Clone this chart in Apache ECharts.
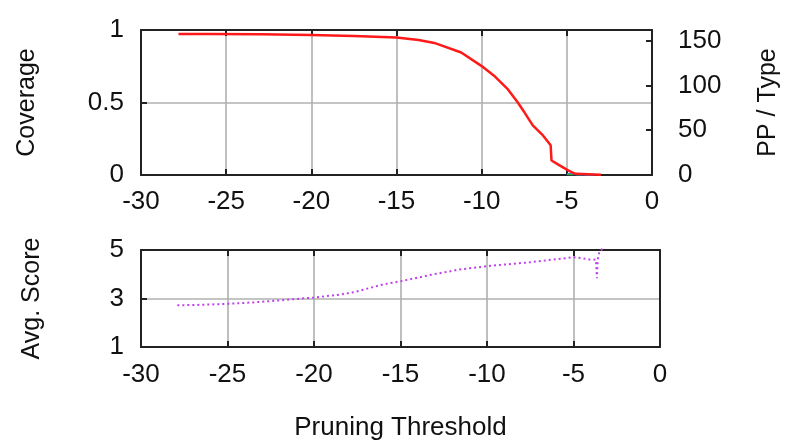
<!DOCTYPE html>
<html>
<head>
<meta charset="utf-8">
<script src="https://cdn.jsdelivr.net/npm/echarts@6/dist/echarts.min.js"></script>
<style>html,body{margin:0;padding:0;background:#fff}#c{width:789px;height:442px}</style>
</head>
<body>
<div id="c"></div>
<script>
// Pruning threshold vs coverage (top panel, left axis)
const coverageX = [-27.8, -26, -23, -20, -17.5, -15, -13.7, -12.7, -11.2, -10, -9.2, -8.5, -7.9, -7.5, -7.0, -6.4, -5.95, -5.9, -5.5, -4.9, -4.5, -3.0];
const coverageY = [0.972, 0.972, 0.970, 0.966, 0.958, 0.949, 0.931, 0.908, 0.845, 0.751, 0.677, 0.596, 0.503, 0.434, 0.342, 0.273, 0.205, 0.100, 0.072, 0.030, 0.008, 0.002];
// PP / Type (top panel, right axis) – tiny values near zero
const ppTypeX = [-5.0, -4.6, -4.2, -3.8, -3.4];
const ppTypeBlue = [1.2, 0.8, 0.6, 0.4, 0.3];
const ppTypeGreen = [0.6, 0.4, 0.3, 0.2, 0.2];
// Average score (bottom panel)
const scoreX = [-27.9, -26.5, -25, -23.5, -22, -20, -18.5, -17.7, -16, -15, -14, -13.3, -12, -11.7, -10, -9, -7.7, -6.5, -5, -4.5, -4.1, -3.7, -3.65, -3.6, -3.5, -3.3];
const scoreY = [2.72, 2.74, 2.78, 2.84, 2.92, 3.04, 3.16, 3.26, 3.58, 3.71, 3.86, 3.97, 4.14, 4.19, 4.33, 4.40, 4.48, 4.58, 4.70, 4.66, 4.61, 4.60, 3.84, 4.60, 4.95, 5.06];
// Tick settings
const xTicks = {min: -30, max: 0, interval: 5};
const covTicks = {min: 0, max: 1, interval: 0.5};
const ppTicks = {min: 0, max: 162, interval: 50};
const scoreTicks = {min: 1, max: 5, interval: 2};

const zip = (a, b) => a.map((v, i) => [v, b[i]]);
const TXT = '#111';
const FONT = 'Liberation Sans';
const lbl = {fontSize: 26, color: TXT, fontFamily: FONT};
const tick = {show: true, inside: true, length: 6, lineStyle: {color: '#222', width: 2}};
const aline = {show: true, onZero: false, lineStyle: {color: '#222', width: 2}};
const split = {show: true, lineStyle: {color: '#b0b0b0', width: 1.6}};
const nameStyle = {fontSize: 25, color: TXT, fontFamily: FONT};

const chart = echarts.init(document.getElementById('c'), null, {renderer: 'canvas'});
chart.setOption({
  animation: false,
  backgroundColor: '#fff',
  grid: [
    {left: 141, top: 30, width: 519, height: 145, containLabel: false},
    {left: 141, top: 250, width: 519, height: 106, containLabel: false}
  ],
  xAxis: [
    {gridIndex: 0, type: 'value', position: 'bottom', ...xTicks, axisLine: aline, axisTick: tick,
     axisLabel: {...lbl, margin: 14}, splitLine: split},
    {gridIndex: 0, type: 'value', position: 'top', ...xTicks, axisLine: aline, axisTick: tick,
     axisLabel: {show: false}, splitLine: {show: false}},
    {gridIndex: 1, type: 'value', position: 'bottom', ...xTicks, axisLine: aline, axisTick: tick,
     axisLabel: {...lbl, margin: 15}, splitLine: split,
     name: 'Pruning Threshold', nameLocation: 'middle', nameGap: 68, nameTextStyle: {...nameStyle, fontSize: 26}},
    {gridIndex: 1, type: 'value', position: 'top', ...xTicks, axisLine: aline, axisTick: tick,
     axisLabel: {show: false}, splitLine: {show: false}}
  ],
  yAxis: [
    {gridIndex: 0, type: 'value', position: 'left', ...covTicks, axisLine: aline, axisTick: tick,
     axisLabel: {...lbl, margin: 17}, splitLine: split,
     name: 'Coverage', nameLocation: 'middle', nameGap: 101, nameRotate: 90, nameTextStyle: nameStyle},
    {gridIndex: 0, type: 'value', position: 'right', ...ppTicks, axisLine: aline, axisTick: tick,
     axisLabel: {...lbl, margin: 26, showMaxLabel: false, formatter: v => (v % 50 === 0 ? String(v) : '')},
     splitLine: {show: false},
     name: 'PP / Type', nameLocation: 'middle', nameGap: 104, nameRotate: 90, nameTextStyle: nameStyle},
    {gridIndex: 1, type: 'value', position: 'left', ...scoreTicks, axisLine: aline, axisTick: tick,
     axisLabel: {...lbl, margin: 17}, splitLine: split,
     name: 'Avg. Score', nameLocation: 'middle', nameGap: 96, nameRotate: 90, nameTextStyle: nameStyle},
    {gridIndex: 1, type: 'value', position: 'right', ...scoreTicks, axisLine: aline, axisTick: {show: false},
     axisLabel: {show: false}, splitLine: {show: false}}
  ],
  series: [
    {name: 'PP / Type', type: 'line', xAxisIndex: 0, yAxisIndex: 1, data: zip(ppTypeX, ppTypeBlue),
     showSymbol: false, lineStyle: {color: '#3060ff', width: 2}, z: 3},
    {name: 'PP / Type 2', type: 'line', xAxisIndex: 0, yAxisIndex: 1, data: zip(ppTypeX, ppTypeGreen),
     showSymbol: false, lineStyle: {color: '#30b030', width: 1.5, type: 'dashed'}, z: 3},
    {name: 'Coverage', type: 'line', xAxisIndex: 0, yAxisIndex: 0, data: zip(coverageX, coverageY),
     showSymbol: false, lineStyle: {color: '#ff1a1a', width: 2.5}, z: 4},
    {name: 'Avg. Score', type: 'line', xAxisIndex: 2, yAxisIndex: 2, data: zip(scoreX, scoreY),
     showSymbol: false, clip: false, lineStyle: {color: '#c040f0', width: 2, type: [2, 3]}, z: 4}
  ]
});
</script>
</body>
</html>
